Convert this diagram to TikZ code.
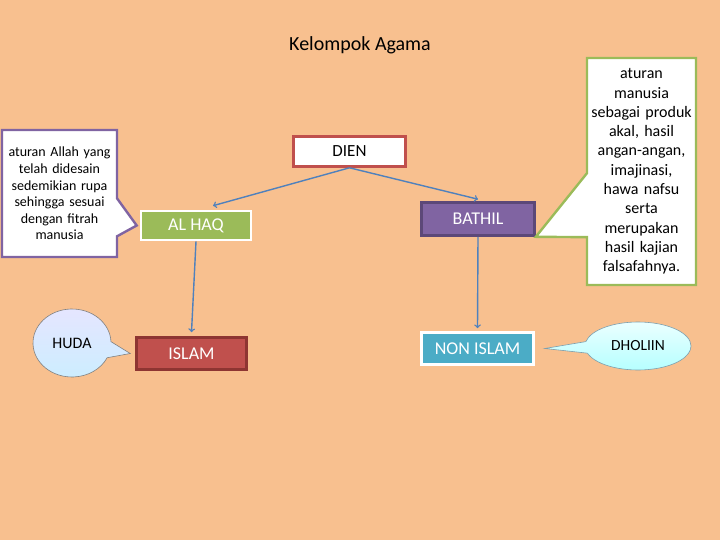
\documentclass[tikz,border=0pt]{standalone}
\usepackage{fontspec}
\setmainfont{Carlito}
\usepackage{xcolor}
\usepackage{tikz}
\usetikzlibrary{positioning,shapes.callouts}

\definecolor{peach}{HTML}{F8C08F}
\definecolor{dienred}{HTML}{C0504D}
\definecolor{haqgreen}{HTML}{9BBB59}
\definecolor{bathilpurple}{HTML}{8064A2}
\definecolor{bathilrim}{HTML}{5C4878}
\definecolor{islamred}{HTML}{C0504D}
\definecolor{islamrim}{HTML}{8E3532}
\definecolor{nonblue}{HTML}{4BACC6}
\definecolor{linkblue}{HTML}{4F81BD}

\begin{document}
\begin{tikzpicture}[
  x=1pt, y=-1pt,
  box/.style={draw, line width=2.6pt, inner sep=0pt, align=center,
              font=\fontsize{18}{20}\selectfont},
  note/.style={rectangle callout, draw, fill=white, line width=2.4pt,
               align=center, inner sep=2pt},
  bubble/.style={ellipse callout, draw=gray, line width=0.6pt, inner sep=0pt,
                 callout pointer arc=28},
  link/.style={draw=linkblue, line width=1.4pt, ->}
]
\fill[peach] (0,0) rectangle (720,540);

\node[font=\fontsize{20}{22}\selectfont] (title) at (360,45) {Kelompok Agama};

\node[box, draw=dienred, fill=white, minimum width=112pt, minimum height=30pt, font=\fontsize{17}{20}\selectfont] (dien) at (349.5,151.5) {DIEN};
\node[box, draw=white, fill=haqgreen, text=white, minimum width=110pt, minimum height=29pt] (alhaq) at (196,225.5) {AL HAQ};
\node[box, draw=bathilrim, fill=bathilpurple, text=white, minimum width=113pt, minimum height=33pt] (bathil) at (478,219) {BATHIL};
\node[box, draw=islamrim, fill=islamred, text=white, minimum width=110pt, minimum height=32pt] (islam) at (191.5,353.5) {ISLAM};
\node[box, draw=white, fill=nonblue, text=white, minimum width=112pt, minimum height=32pt] (nonislam) at (477.5,348.5) {NON ISLAM};

% callouts
\node[note, draw=bathilpurple, text width=111pt, minimum height=127pt,
      font=\fontsize{14}{16.6}\selectfont, callout pointer width=38pt,
      callout absolute pointer={([xshift=-3pt]alhaq.west)}] (allah) at (59.5,193.5)
  {aturan Allah yang\\telah didesain\\sedemikian rupa\\sehingga sesuai\\dengan fitrah\\manusia};
\node[note, draw=haqgreen, text width=105pt, minimum height=227pt,
      font=\fontsize{16}{19.3}\selectfont, callout pointer width=64pt,
      callout absolute pointer={(bathil.south east)}] (manusia) at (641.5,171.5)
  {aturan\\manusia\\sebagai produk\\akal, hasil\\angan-angan,\\imajinasi,\\hawa nafsu\\serta\\merupakan\\hasil kajian\\falsafahnya.};
\node[bubble, top color=blue!10, bottom color=blue!35!cyan!20!white,
      minimum width=78pt, minimum height=68pt, font=\fontsize{16}{18}\selectfont,
      callout absolute pointer={([xshift=-5pt]islam.west)}] (huda) at (72,343) {HUDA};
\node[bubble, top color=cyan!8, bottom color=cyan!30, draw=gray!70!cyan,
      minimum width=106pt, minimum height=48pt, font=\fontsize{15.5}{18}\selectfont,
      callout absolute pointer={([xshift=10pt]nonislam.east)}] (dholiin) at (638,346) {DHOLIIN};

\path[link] (dien.south) -- ([xshift=17pt,yshift=4pt]alhaq.north);
\path[link] (dien.south) -- ([yshift=2pt]bathil.north);
\path[link] (alhaq.south) -- ([yshift=4pt]islam.north);
\path[link] (bathil.south) -- ([yshift=3pt]nonislam.north);
\end{tikzpicture}
\end{document}
